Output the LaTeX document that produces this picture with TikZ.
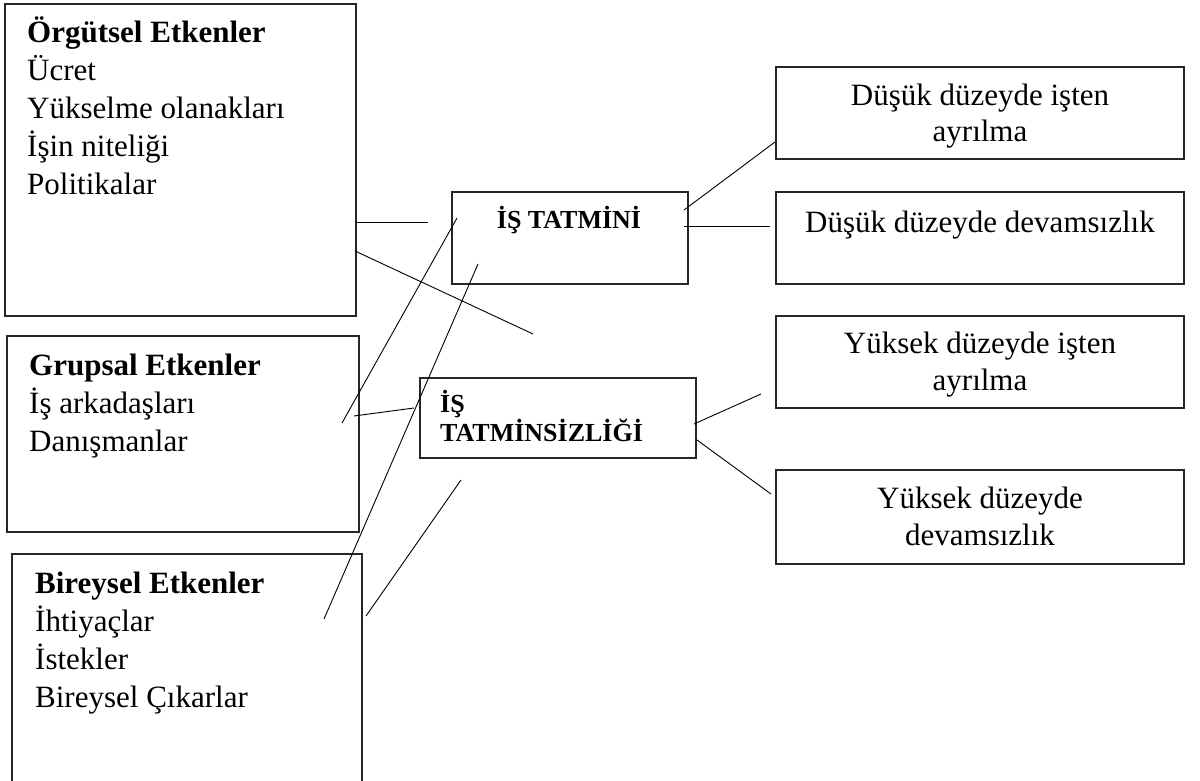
\documentclass[tikz,border=0pt]{standalone}
\usepackage{fontspec}
\setmainfont{Liberation Serif}
\begin{document}
\begin{tikzpicture}[x=1pt,y=-1pt,
  box/.style={draw=black!85, line width=1.1pt, rectangle, inner sep=0pt},
  txt/.style={inner sep=0pt, align=left, anchor=base west, font=\fontsize{31}{37.8}\selectfont},
  ctxt/.style={inner sep=0pt, align=center, anchor=base, font=\fontsize{31}{36.5}\selectfont},
  btxt/.style={inner sep=0pt, align=left, font=\bfseries\fontsize{26}{29}\selectfont},
  conn/.style={draw=black, line width=0.9pt}
]
\useasboundingbox (0,0) rectangle (1200,781);

% left boxes
\node[box, minimum width=351pt, minimum height=312pt] (org) at (180.5,160) {};
\node[box, minimum width=352pt, minimum height=196pt] (grp) at (183,434) {};
\node[box, minimum width=350pt, minimum height=246pt] (bir) at (187,677) {};

% (anchor = baseline of the last line)
\node[txt] (orgT) at (27,194) {\textbf{Örgütsel Etkenler}\\Ücret\\Yükselme olanakları\\İşin niteliği\\Politikalar};
\node[txt] (grpT) at (29,451) {\textbf{Grupsal Etkenler}\\İş arkadaşları\\Danışmanlar};
\node[txt] (birT) at (35,707) {\textbf{Bireysel Etkenler}\\İhtiyaçlar\\İstekler\\Bireysel Çıkarlar};

% middle boxes
\node[box, minimum width=236pt, minimum height=92pt] (tat) at (570,238) {};
\node[btxt, anchor=base] (tatT) at (569,228) {İŞ TATMİNİ};
\node[box, minimum width=276pt, minimum height=80pt] (tsz) at (558,418) {};
\node[btxt, anchor=base west] (tszT) at (440,441) {İŞ\\TATMİNSİZLİĞİ};

% right boxes
\node[box, minimum width=408pt, minimum height=92pt] (f) at (980,113) {};
\node[box, minimum width=408pt, minimum height=92pt] (g) at (980,238) {};
\node[box, minimum width=408pt, minimum height=92pt] (h) at (980,362) {};
\node[box, minimum width=408pt, minimum height=94pt] (i) at (980,517) {};
\node[ctxt] (fT) at (980,142) {Düşük düzeyde işten\\ayrılma};
\node[ctxt] (gT) at (980,233) {Düşük düzeyde devamsızlık};
\node[ctxt] (hT) at (980,390) {Yüksek düzeyde işten\\ayrılma};
\node[ctxt] (iT) at (980,545) {Yüksek düzeyde\\devamsızlık};

% connector end points
\coordinate (c1a) at (356,222); \coordinate (c1b) at (428,222);
\coordinate (c2a) at (355,251); \coordinate (c2b) at (533,334);
\coordinate (c3a) at (457,218); \coordinate (c3b) at (342,423);
\coordinate (c4a) at (478,264); \coordinate (c4b) at (324,619);
\coordinate (c5a) at (354,416); \coordinate (c5b) at (414,408);
\coordinate (c6a) at (366,616); \coordinate (c6b) at (461,480);
\coordinate (c7a) at (684,210); \coordinate (c7b) at (775,142);
\coordinate (c8a) at (684,226); \coordinate (c8b) at (770,226);
\coordinate (c9a) at (694,424); \coordinate (c9b) at (761,394);
\coordinate (c10a) at (697,440); \coordinate (c10b) at (771,494);

\draw[conn] (c1a) -- (c1b);
\draw[conn] (c2a) -- (c2b);
\draw[conn] (c3a) -- (c3b);
\draw[conn] (c4a) -- (c4b);
\draw[conn] (c5a) -- (c5b);
\draw[conn] (c6a) -- (c6b);
\draw[conn] (c7a) -- (c7b);
\draw[conn] (c8a) -- (c8b);
\draw[conn] (c9a) -- (c9b);
\draw[conn] (c10a) -- (c10b);
\end{tikzpicture}
\end{document}
